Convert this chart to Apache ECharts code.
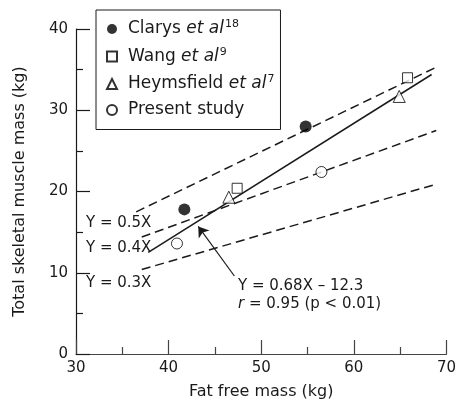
<!DOCTYPE html>
<html>
<head>
<meta charset="utf-8">
<script src="https://cdn.jsdelivr.net/npm/echarts@6/dist/echarts.min.js"></script>
<style>
  html, body { margin: 0; background: #fff; }
  #chart { width: 459px; height: 411px; }
</style>
</head>
<body>
<div id="chart"></div>
<script>
// data
const clarys = [[41.7, 17.8], [54.8, 28.0]];
const wang = [[47.4, 20.4], [65.8, 34.0]];
const heymsfield = [[46.5, 19.3], [64.9, 31.7]];
const present = [[40.9, 13.6], [56.5, 22.4]];
const line05 = [[36.5, 17.5], [68.9, 35.3]];
const line04 = [[37.1, 14.4], [68.9, 27.5]];
const line03 = [[37.1, 10.4], [68.9, 20.9]];
const regression = [[37.8, 12.5], [68.4, 34.4]];
const arrowFrom = [47.1, 9.6];
const arrowTo = [43.2, 15.7];
const lineLabels = ['Y = 0.5X', 'Y = 0.4X', 'Y = 0.3X'];

const FONT = 'DejaVu Sans';
const INK = '#1a1a1a';

const legendText = {
  'Clarys': '{a|Clarys }{i|et al}{s|18}',
  'Wang': '{a|Wang }{i|et al}{s|9}',
  'Heymsfield': '{a|Heymsfield }{i|et al}{s|7}',
  'Present study': '{a|Present study}'
};

const dashed = (data) => ({
  type: 'line',
  data: data,
  symbol: 'none',
  silent: true,
  lineStyle: { color: INK, width: 1.5, type: [9, 5] },
  z: 1
});

const chart = echarts.init(document.getElementById('chart'));

chart.setOption({
  animation: false,
  textStyle: { fontFamily: FONT, color: INK },
  grid: { left: 76, right: 11, top: 29, bottom: 57 },
  xAxis: {
    type: 'value', min: 30, max: 70, interval: 10,
    name: 'Fat free mass (kg)', nameLocation: 'middle', nameGap: 30,
    nameTextStyle: { fontSize: 16, color: INK, fontFamily: FONT },
    axisLine: { lineStyle: { color: '#444', width: 1.2 } },
    axisTick: { inside: true, length: 14, lineStyle: { color: '#444', width: 1.2 } },
    minorTick: { show: true, splitNumber: 2, length: 7, lineStyle: { color: '#444', width: 1.2 } },
    axisLabel: { fontSize: 15, color: INK, margin: 7, fontFamily: FONT },
    splitLine: { show: false }
  },
  yAxis: {
    type: 'value', min: 0, max: 40, interval: 10,
    name: 'Total skeletal muscle mass (kg)', nameLocation: 'middle', nameGap: 48, nameRotate: 90,
    nameTextStyle: { fontSize: 16, color: INK, fontFamily: FONT },
    axisLine: { show: true, lineStyle: { color: INK, width: 1.2 } },
    axisTick: { show: true, inside: true, length: 14, lineStyle: { color: INK, width: 1.2 } },
    minorTick: { show: true, splitNumber: 2, length: 7, lineStyle: { color: INK, width: 1.2 } },
    axisLabel: { fontSize: 15, color: INK, margin: 8, fontFamily: FONT },
    splitLine: { show: false }
  },
  legend: {
    orient: 'vertical', left: 96, top: 10,
    padding: [9, 6, 11, 10],
    borderColor: INK, borderWidth: 1,
    itemWidth: 10, itemHeight: 10, itemGap: 9,
    backgroundColor: '#fff',
    data: ['Clarys', 'Wang', 'Heymsfield', 'Present study'],
    formatter: (name) => legendText[name],
    textStyle: {
      fontFamily: FONT, color: INK,
      rich: {
        a: { fontSize: 17, lineHeight: 20, fontFamily: FONT, color: INK, padding: [0, 0, 0, 6] },
        i: { fontSize: 17, lineHeight: 20, fontStyle: 'italic', fontFamily: FONT, color: INK },
        s: { fontSize: 11, lineHeight: 20, verticalAlign: 'top', fontFamily: FONT, color: INK, padding: [0, 0, 6, 1] }
      }
    }
  },
  graphic: [
    { type: 'text', style: { text: lineLabels[0], x: 86, y: 223, fontSize: 15, fontFamily: FONT, fill: INK, verticalAlign: 'middle' } },
    { type: 'text', style: { text: lineLabels[1], x: 86, y: 248, fontSize: 15, fontFamily: FONT, fill: INK, verticalAlign: 'middle' } },
    { type: 'text', style: { text: lineLabels[2], x: 86, y: 283, fontSize: 15, fontFamily: FONT, fill: INK, verticalAlign: 'middle' } },
    { type: 'text', style: { text: 'Y = 0.68X \u2013 12.3', x: 238, y: 286, fontSize: 15, fontFamily: FONT, fill: INK, verticalAlign: 'middle' } },
    { type: 'text', style: {
        text: '{i|r} = 0.95 (p < 0.01)', x: 238, y: 304, fontSize: 15, fontFamily: FONT, fill: INK, verticalAlign: 'middle',
        rich: { i: { fontStyle: 'italic', fontSize: 15, fontFamily: FONT, fill: INK } }
    } }
  ],
  series: [
    dashed(line05),
    dashed(line04),
    dashed(line03),
    {
      type: 'line',
      data: regression,
      symbol: 'none',
      silent: true,
      lineStyle: { color: INK, width: 1.5 },
      z: 1,
      markLine: {
        silent: true,
        symbol: ['none', 'arrow'],
        symbolSize: 10,
        label: { show: false },
        lineStyle: { color: INK, width: 1.2, type: 'solid' },
        data: [[{ coord: arrowFrom }, { coord: arrowTo }]]
      }
    },
    {
      name: 'Clarys', type: 'scatter', data: clarys, symbol: 'circle', symbolSize: 12,
      itemStyle: { color: '#000' }, z: 3
    },
    {
      name: 'Wang', type: 'scatter', data: wang, symbol: 'rect', symbolSize: 10,
      itemStyle: { color: '#fff', borderColor: '#000', borderWidth: 1 }, z: 3
    },
    {
      name: 'Heymsfield', type: 'scatter', data: heymsfield, symbol: 'triangle', symbolSize: 12,
      itemStyle: { color: '#fff', borderColor: '#000', borderWidth: 1 }, z: 3
    },
    {
      name: 'Present study', type: 'scatter', data: present, symbol: 'circle', symbolSize: 11,
      itemStyle: { color: '#fff', borderColor: '#000', borderWidth: 1 }, z: 3
    }
  ]
});
</script>
</body>
</html>
